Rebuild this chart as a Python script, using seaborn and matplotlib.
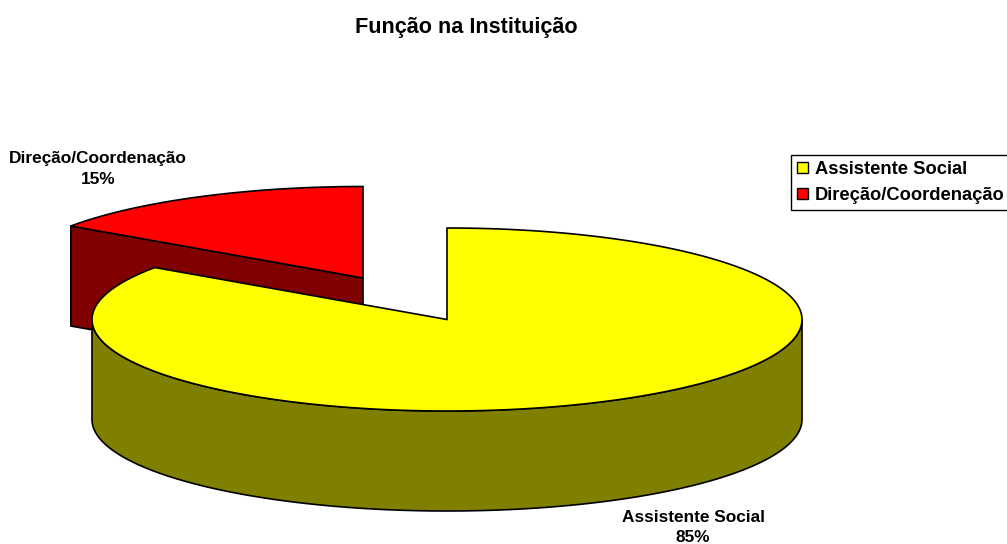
import numpy as np
import matplotlib
matplotlib.use("Agg")
import matplotlib.pyplot as plt
from matplotlib.patches import Patch
import seaborn as sns

# Dados do gráfico
categories = ["Assistente Social", "Direção/Coordenação"]
counts = [11, 2]
top_colors = ["#ffff00", "#ff0000"]
side_colors = ["#808000", "#800000"]
title = "Função na Instituição"

sns.set_theme(style="white")
plt.rcParams["font.family"] = ["Liberation Sans", "DejaVu Sans"]

# Geometria da pizza em pixels
RX, RY, DEPTH = 355, 91.5, 100
CENTERS = [(447, 319.5), (363, 278)]

shares = np.array(counts) / sum(counts)
ends = np.cumsum(shares) * 2 * np.pi
starts = ends - shares * 2 * np.pi


def rim(center, a, b, dy=0):
    """Arco da elipse, ângulo em sentido horário a partir do topo."""
    t = np.linspace(a, b, 300)
    return center[0] + RX * np.sin(t), center[1] - RY * np.cos(t) + dy


def draw_slice(ax, center, a, b, top, side, z):
    x, y = rim(center, a, b)
    # parede do corte que fica virada para a frente
    if a > np.pi:
        ex, ey = rim(center, a, a)
        wx = [ex[0], center[0], center[0], ex[0]]
        wy = [ey[0], center[1], center[1] + DEPTH, ey[0] + DEPTH]
        ax.fill(wx, wy, facecolor=side, edgecolor="black", lw=1.2, zorder=z)
    # lateral externa, só a metade da frente da elipse
    lo, hi = max(a, np.pi / 2), min(b, 3 * np.pi / 2)
    if lo < hi:
        sx, sy = rim(center, lo, hi)
        bx, by = rim(center, hi, lo, DEPTH)
        ax.fill(np.r_[sx, bx], np.r_[sy, by], facecolor=side, edgecolor="black", lw=1.2, zorder=z)
    ax.fill(np.r_[center[0], x], np.r_[center[1], y], facecolor=top, edgecolor="black",
            lw=1.2, joinstyle="miter", zorder=z + 1)


fig = plt.figure(figsize=(10.07, 5.44), dpi=100)
ax = fig.add_axes([0, 0, 1, 1])
ax.set_xlim(0, 1007)
ax.set_ylim(544, 0)
ax.axis("off")

# fatia vermelha fica atrás da amarela
draw_slice(ax, CENTERS[1], starts[1], ends[1], top_colors[1], side_colors[1], 1)
draw_slice(ax, CENTERS[0], starts[0], ends[0], top_colors[0], side_colors[0], 3)

ax.text(466, 27, title, ha="center", va="center", fontsize=15.6, fontweight="bold", color="black")

pct = [f"{s * 100:.0f}%" for s in shares]
ax.text(693, 527.5, f"{categories[0]}\n{pct[0]}", ha="center", va="center", fontsize=12.4,
        fontweight="bold", color="black", linespacing=1.5)
ax.text(98, 168.5, f"{categories[1]}\n{pct[1]}", ha="center", va="center", fontsize=12.4,
        fontweight="bold", color="black", linespacing=1.5)

handles = [Patch(facecolor=c, edgecolor="black", lw=1) for c in top_colors]
leg = ax.legend(handles, categories, loc="upper left", bbox_to_anchor=(791, 155),
                bbox_transform=ax.transData, fancybox=False, framealpha=1, edgecolor="black",
                prop={"size": 13.2, "weight": "bold"}, labelcolor="black", handlelength=0.6,
                handleheight=0.6, handletextpad=0.38, labelspacing=0.49, borderpad=0.32,
                borderaxespad=0)
leg.get_frame().set_linewidth(1)

fig.savefig("out.png", dpi=100)
